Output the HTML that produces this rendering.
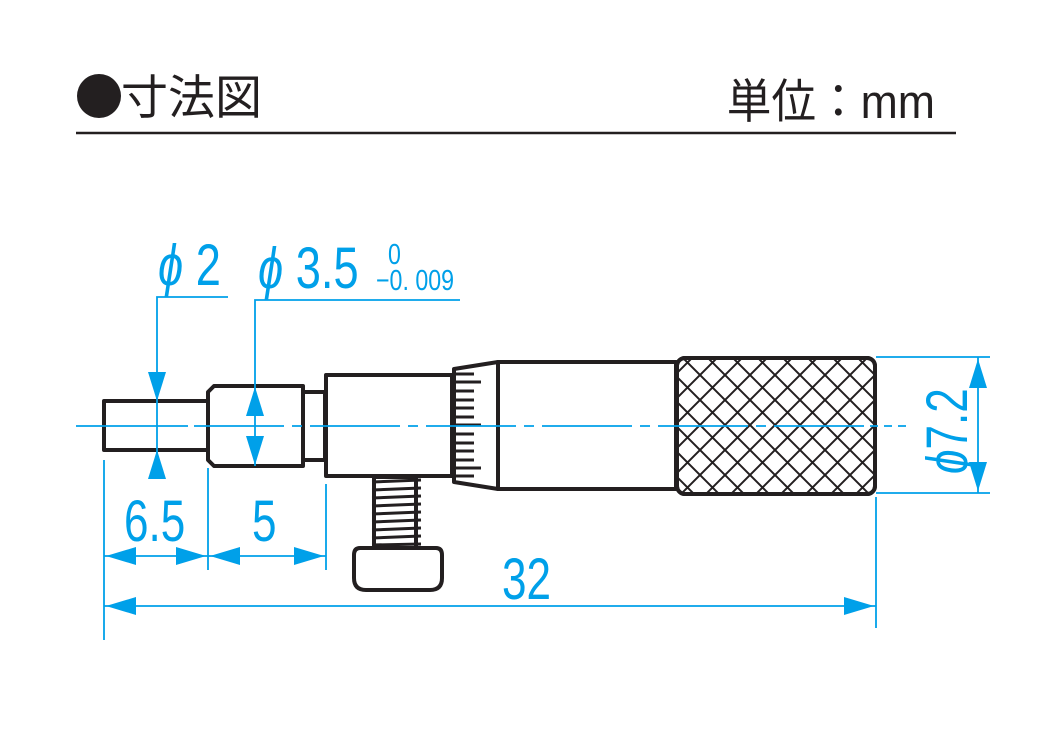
<!DOCTYPE html>
<html><head><meta charset="utf-8"><style>
html,body{margin:0;padding:0;background:#fff;}
svg{display:block;}
</style></head><body>
<svg width="1050" height="750" viewBox="0 0 1050 750" xmlns="http://www.w3.org/2000/svg">
<defs>
<pattern id="kn" patternUnits="userSpaceOnUse" width="25" height="25">
<path d="M0 0L25 25M-25 0L0 25M25 0L50 25M25 0L0 25M0 0L-25 25M50 0L25 25" stroke="#231f20" stroke-width="2" fill="none"/>
</pattern>
<clipPath id="kc"><rect x="677" y="358" width="198" height="136" rx="8"/></clipPath>
</defs>
<circle cx="99" cy="96" r="22" fill="#231f20"/>
<text x="121" y="114" font-family="'Liberation Sans','Noto Sans CJK JP',sans-serif" font-size="47" fill="#231f20">寸法図</text>
<text x="935" y="118" text-anchor="end" font-family="'Liberation Sans','Noto Sans CJK JP',sans-serif" font-size="47" fill="#231f20" transform="translate(935 0) scale(0.95 1) translate(-935 0)">単位：mm</text>
<line x1="76" y1="133" x2="956" y2="133" stroke="#231f20" stroke-width="2.5"/>

<g stroke="#231f20" stroke-width="4" fill="#fff" stroke-linejoin="round">
<rect x="104" y="401" width="104" height="49"/>
<path d="M214 386H303V466H214L208 460V392Z"/>
<rect x="303" y="392" width="22" height="68"/>
<rect x="326" y="375" width="126" height="101"/>
<rect x="374" y="477" width="42" height="71"/>
<path d="M360 548H436Q442 548 442 555V578Q442 590 430 590H366Q354 590 354 578V555Q354 548 360 548Z"/>
<path d="M454 369L498 362V489L454 482Z"/>
<rect x="498" y="362" width="178" height="127"/>
<rect x="677" y="358" width="198" height="136" rx="8" fill="#fff"/>
</g>
<rect x="677" y="358" width="198" height="136" fill="url(#kn)" clip-path="url(#kc)"/>
<rect x="677" y="358" width="198" height="136" rx="8" fill="none" stroke="#231f20" stroke-width="4"/>
<g stroke="#231f20" stroke-width="3">
<line x1="372" y1="482" x2="421" y2="480"/><line x1="372" y1="490" x2="421" y2="488"/>
<line x1="372" y1="498" x2="421" y2="496"/><line x1="372" y1="506" x2="421" y2="504"/>
<line x1="372" y1="514" x2="421" y2="512"/><line x1="372" y1="522" x2="421" y2="520"/>
<line x1="372" y1="530" x2="421" y2="528"/><line x1="372" y1="538" x2="421" y2="536"/>
<line x1="372" y1="545" x2="421" y2="544"/>
</g>
<g stroke="#231f20" stroke-width="3">
<line x1="455" y1="374" x2="474" y2="374"/><line x1="455" y1="382" x2="481" y2="382"/>
<line x1="455" y1="391" x2="474" y2="391"/><line x1="455" y1="400" x2="474" y2="400"/>
<line x1="455" y1="408" x2="474" y2="408"/><line x1="455" y1="417" x2="474" y2="417"/>
<line x1="455" y1="425" x2="481" y2="425"/><line x1="455" y1="434" x2="474" y2="434"/>
<line x1="455" y1="443" x2="474" y2="443"/><line x1="455" y1="451" x2="474" y2="451"/>
<line x1="455" y1="460" x2="474" y2="460"/><line x1="455" y1="468" x2="481" y2="468"/>
<line x1="455" y1="476" x2="474" y2="476"/>
</g>

<g stroke="#00a0e9" stroke-width="1.8" fill="none">
<line x1="76" y1="426" x2="188" y2="426"/><line x1="194" y1="426" x2="864" y2="426" stroke-dasharray="90 8 10 8"/>
<line x1="870" y1="426" x2="912" y2="426" stroke-dasharray="8 6"/>
<polyline points="228,297 157,297 157,478"/>
<polyline points="460,300 255,300 255,466"/>
<line x1="104" y1="460" x2="104" y2="640"/>
<line x1="208" y1="468" x2="208" y2="570"/>
<line x1="326" y1="484" x2="326" y2="570"/>
<line x1="876" y1="497" x2="876" y2="628"/>
<line x1="104" y1="556" x2="326" y2="556"/>
<line x1="104" y1="606" x2="876" y2="606"/>
<line x1="876" y1="357" x2="990" y2="357"/>
<line x1="876" y1="493" x2="990" y2="493"/>
<line x1="978" y1="357" x2="978" y2="493"/>
</g>
<g fill="#00a0e9">
<path d="M157 401L148 372H166Z"/><path d="M157 450L148 479H166Z"/>
<path d="M255 387L246 416H264Z"/><path d="M255 465L246 436H264Z"/>
<path d="M106 556L136 547V565Z"/><path d="M206 556L176 547V565Z"/>
<path d="M210 556L240 547V565Z"/><path d="M324 556L294 547V565Z"/>
<path d="M106 606L136 597V615Z"/><path d="M874 606L844 597V615Z"/>
<path d="M978 359L969 388H987Z"/><path d="M978 491L969 462H987Z"/>
</g>
<g fill="#00a0e9" font-family="'Liberation Sans',sans-serif">
<text x="0" y="0" font-size="58" transform="translate(158 285) scale(0.78 1)"><tspan font-style="italic">ϕ</tspan> 2</text>
<text x="0" y="0" font-size="58" transform="translate(258 288) scale(0.78 1)"><tspan font-style="italic">ϕ</tspan> 3.5</text>
<text x="0" y="0" font-size="29" transform="translate(388 264) scale(0.8 1)">0</text>
<text x="0" y="0" font-size="29" transform="translate(376 290) scale(0.8 1)">−0. 009</text>
<text x="0" y="0" font-size="58" transform="translate(124 541) scale(0.76 1)">6.5</text>
<text x="0" y="0" font-size="58" transform="translate(252 541) scale(0.76 1)">5</text>
<text x="0" y="0" font-size="58" transform="translate(502 599) scale(0.76 1)">32</text>
<text x="0" y="0" font-size="58" transform="translate(967 474) rotate(-90) scale(0.76 1)"><tspan font-style="italic">ϕ</tspan>7.2</text>
</g>
</svg>
</body></html>
